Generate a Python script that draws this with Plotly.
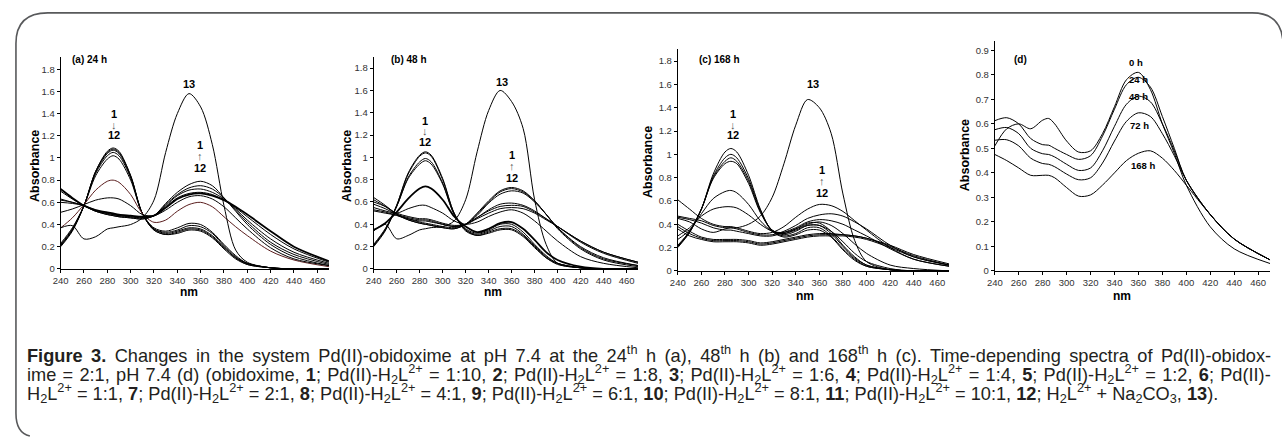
import plotly.graph_objects as go

W = 1282
H = 439

nm = [240, 250, 260, 270, 280, 285, 290, 300, 310, 320, 330, 340, 350, 360, 370, 380, 390, 400, 420, 440, 470]

# (a) 24 h
a1 = [0.20, 0.34, 0.57, 0.88, 1.06, 1.09, 1.06, 0.84, 0.50, 0.35, 0.31, 0.32, 0.35, 0.34, 0.28, 0.18, 0.09, 0.04, 0.01, 0.0, 0.0]
a2 = [0.21, 0.35, 0.57, 0.88, 1.05, 1.08, 1.05, 0.84, 0.50, 0.35, 0.31, 0.33, 0.36, 0.35, 0.29, 0.19, 0.10, 0.04, 0.01, 0.0, 0.0]
a3 = [0.21, 0.35, 0.57, 0.87, 1.04, 1.07, 1.04, 0.83, 0.50, 0.36, 0.32, 0.34, 0.37, 0.36, 0.30, 0.20, 0.10, 0.05, 0.01, 0.0, 0.0]
a4 = [0.22, 0.36, 0.57, 0.86, 1.02, 1.05, 1.02, 0.82, 0.50, 0.36, 0.33, 0.35, 0.39, 0.38, 0.32, 0.21, 0.11, 0.05, 0.01, 0.0, 0.0]
a5 = [0.23, 0.37, 0.57, 0.84, 0.99, 1.02, 0.99, 0.80, 0.50, 0.37, 0.34, 0.37, 0.41, 0.40, 0.33, 0.22, 0.12, 0.05, 0.01, 0.0, 0.0]
a6 = [0.37, 0.46, 0.58, 0.71, 0.79, 0.80, 0.78, 0.67, 0.50, 0.42, 0.44, 0.52, 0.58, 0.60, 0.56, 0.47, 0.38, 0.30, 0.16, 0.08, 0.02]
a7 = [0.51, 0.54, 0.58, 0.62, 0.64, 0.64, 0.63, 0.57, 0.49, 0.48, 0.53, 0.60, 0.65, 0.66, 0.63, 0.56, 0.46, 0.36, 0.19, 0.09, 0.03]
a8 = [0.72, 0.64, 0.57, 0.53, 0.51, 0.50, 0.49, 0.48, 0.47, 0.48, 0.55, 0.63, 0.67, 0.68, 0.66, 0.62, 0.56, 0.49, 0.34, 0.20, 0.07]
a9 = [0.70, 0.63, 0.57, 0.52, 0.50, 0.49, 0.48, 0.47, 0.46, 0.48, 0.56, 0.64, 0.68, 0.69, 0.67, 0.62, 0.55, 0.47, 0.31, 0.18, 0.06]
a10 = [0.63, 0.60, 0.57, 0.53, 0.50, 0.49, 0.48, 0.47, 0.46, 0.48, 0.57, 0.66, 0.71, 0.72, 0.69, 0.63, 0.54, 0.44, 0.27, 0.15, 0.05]
a11 = [0.62, 0.60, 0.57, 0.52, 0.49, 0.48, 0.47, 0.46, 0.45, 0.48, 0.58, 0.67, 0.73, 0.75, 0.72, 0.64, 0.53, 0.42, 0.24, 0.13, 0.04]
a12 = [0.60, 0.59, 0.57, 0.52, 0.49, 0.48, 0.47, 0.46, 0.45, 0.48, 0.59, 0.69, 0.76, 0.79, 0.75, 0.64, 0.52, 0.40, 0.22, 0.11, 0.03]
a13 = [0.37, 0.39, 0.27, 0.29, 0.36, 0.37, 0.38, 0.40, 0.46, 0.62, 1.05, 1.40, 1.58, 1.46, 1.12, 0.57, 0.17, 0.06, 0.01, 0.0, 0.0]

# (b) 48 h
b1 = [0.20, 0.34, 0.57, 0.86, 1.02, 1.05, 1.02, 0.81, 0.50, 0.34, 0.30, 0.32, 0.35, 0.35, 0.29, 0.19, 0.10, 0.04, 0.01, 0.0, 0.0]
b2 = [0.21, 0.35, 0.57, 0.85, 1.01, 1.04, 1.01, 0.80, 0.50, 0.35, 0.30, 0.33, 0.36, 0.36, 0.30, 0.20, 0.10, 0.05, 0.01, 0.0, 0.0]
b3 = [0.21, 0.35, 0.56, 0.82, 0.96, 0.99, 0.96, 0.77, 0.49, 0.35, 0.31, 0.34, 0.38, 0.38, 0.31, 0.21, 0.11, 0.05, 0.01, 0.0, 0.0]
b4 = [0.22, 0.36, 0.56, 0.81, 0.94, 0.97, 0.94, 0.76, 0.49, 0.36, 0.32, 0.35, 0.40, 0.40, 0.33, 0.22, 0.12, 0.05, 0.01, 0.0, 0.0]
b5 = [0.35, 0.41, 0.51, 0.63, 0.72, 0.74, 0.72, 0.62, 0.47, 0.38, 0.33, 0.36, 0.41, 0.42, 0.36, 0.26, 0.15, 0.08, 0.02, 0.0, 0.0]
b6 = [0.55, 0.52, 0.50, 0.54, 0.57, 0.57, 0.55, 0.50, 0.43, 0.40, 0.42, 0.47, 0.51, 0.53, 0.50, 0.43, 0.34, 0.25, 0.11, 0.05, 0.01]
b7 = [0.60, 0.56, 0.50, 0.47, 0.45, 0.45, 0.44, 0.41, 0.39, 0.40, 0.45, 0.50, 0.54, 0.55, 0.54, 0.50, 0.44, 0.38, 0.25, 0.15, 0.06]
b8 = [0.58, 0.54, 0.49, 0.46, 0.44, 0.44, 0.43, 0.40, 0.38, 0.40, 0.46, 0.52, 0.56, 0.57, 0.56, 0.51, 0.45, 0.38, 0.25, 0.15, 0.06]
b9 = [0.53, 0.51, 0.48, 0.45, 0.43, 0.43, 0.42, 0.40, 0.38, 0.40, 0.46, 0.53, 0.58, 0.59, 0.57, 0.52, 0.45, 0.38, 0.24, 0.14, 0.05]
b10 = [0.64, 0.57, 0.49, 0.45, 0.42, 0.41, 0.40, 0.38, 0.37, 0.40, 0.48, 0.59, 0.67, 0.70, 0.68, 0.60, 0.49, 0.37, 0.20, 0.10, 0.03]
b11 = [0.62, 0.56, 0.49, 0.44, 0.41, 0.40, 0.39, 0.37, 0.36, 0.40, 0.49, 0.60, 0.69, 0.72, 0.69, 0.61, 0.49, 0.37, 0.19, 0.09, 0.03]
b12 = [0.52, 0.50, 0.48, 0.44, 0.41, 0.40, 0.39, 0.37, 0.36, 0.40, 0.50, 0.61, 0.70, 0.73, 0.70, 0.61, 0.49, 0.36, 0.18, 0.08, 0.02]
b13 = [0.34, 0.40, 0.27, 0.30, 0.35, 0.36, 0.37, 0.38, 0.43, 0.62, 1.05, 1.42, 1.60, 1.50, 1.26, 0.62, 0.22, 0.05, 0.01, 0.0, 0.0]

# (c) 168 h
c1 = [0.20, 0.33, 0.53, 0.83, 1.02, 1.05, 1.02, 0.82, 0.53, 0.34, 0.29, 0.31, 0.35, 0.35, 0.29, 0.18, 0.09, 0.04, 0.01, 0.0, 0.0]
c2 = [0.21, 0.33, 0.53, 0.81, 0.97, 1.00, 0.97, 0.79, 0.52, 0.34, 0.30, 0.32, 0.37, 0.37, 0.30, 0.19, 0.10, 0.04, 0.01, 0.0, 0.0]
c3 = [0.21, 0.34, 0.53, 0.80, 0.94, 0.97, 0.94, 0.77, 0.51, 0.35, 0.31, 0.34, 0.39, 0.39, 0.32, 0.21, 0.11, 0.05, 0.01, 0.0, 0.0]
c4 = [0.22, 0.34, 0.53, 0.79, 0.92, 0.94, 0.92, 0.75, 0.50, 0.35, 0.32, 0.36, 0.41, 0.41, 0.34, 0.22, 0.12, 0.05, 0.01, 0.0, 0.0]
c5 = [0.27, 0.35, 0.49, 0.62, 0.68, 0.69, 0.67, 0.57, 0.43, 0.34, 0.32, 0.35, 0.39, 0.39, 0.34, 0.25, 0.15, 0.08, 0.02, 0.0, 0.0]
c6 = [0.30, 0.37, 0.47, 0.53, 0.55, 0.55, 0.54, 0.48, 0.40, 0.34, 0.33, 0.36, 0.40, 0.42, 0.39, 0.32, 0.23, 0.15, 0.05, 0.02, 0.0]
c7 = [0.61, 0.53, 0.45, 0.40, 0.38, 0.38, 0.37, 0.34, 0.32, 0.33, 0.38, 0.46, 0.53, 0.57, 0.56, 0.51, 0.43, 0.35, 0.20, 0.10, 0.04]
c8 = [0.47, 0.45, 0.43, 0.39, 0.37, 0.37, 0.36, 0.33, 0.31, 0.31, 0.34, 0.39, 0.45, 0.48, 0.49, 0.47, 0.42, 0.36, 0.22, 0.12, 0.05]
c9 = [0.46, 0.44, 0.41, 0.37, 0.35, 0.35, 0.34, 0.32, 0.30, 0.30, 0.33, 0.37, 0.42, 0.44, 0.43, 0.40, 0.35, 0.30, 0.19, 0.10, 0.04]
c10 = [0.40, 0.34, 0.29, 0.27, 0.27, 0.27, 0.27, 0.26, 0.24, 0.25, 0.27, 0.29, 0.31, 0.32, 0.32, 0.31, 0.30, 0.28, 0.22, 0.14, 0.06]
c11 = [0.38, 0.32, 0.28, 0.26, 0.26, 0.26, 0.26, 0.25, 0.23, 0.24, 0.26, 0.28, 0.30, 0.31, 0.31, 0.31, 0.30, 0.28, 0.21, 0.13, 0.05]
c12 = [0.36, 0.30, 0.27, 0.25, 0.25, 0.25, 0.25, 0.24, 0.22, 0.23, 0.25, 0.27, 0.29, 0.30, 0.30, 0.30, 0.29, 0.27, 0.20, 0.12, 0.05]
c13 = [0.45, 0.42, 0.36, 0.33, 0.36, 0.37, 0.37, 0.40, 0.47, 0.63, 0.92, 1.25, 1.47, 1.40, 1.18, 0.66, 0.26, 0.08, 0.01, 0.0, 0.0]

# (d) Pd(II)-obidoxime = 2:1, pH 7.4, time dependence
d_0h = [0.51, 0.58, 0.60, 0.58, 0.615, 0.622, 0.60, 0.53, 0.485, 0.49, 0.56, 0.67, 0.78, 0.81, 0.74, 0.60, 0.48, 0.35, 0.18, 0.09, 0.03]
d_24h = [0.613, 0.625, 0.60, 0.54, 0.515, 0.513, 0.50, 0.475, 0.455, 0.47, 0.55, 0.66, 0.76, 0.79, 0.75, 0.63, 0.50, 0.37, 0.23, 0.13, 0.045]
d_48h = [0.576, 0.585, 0.56, 0.50, 0.478, 0.475, 0.465, 0.435, 0.41, 0.42, 0.49, 0.59, 0.68, 0.713, 0.69, 0.60, 0.49, 0.37, 0.23, 0.13, 0.045]
d_72h = [0.533, 0.535, 0.51, 0.46, 0.438, 0.435, 0.425, 0.395, 0.372, 0.38, 0.44, 0.53, 0.61, 0.645, 0.63, 0.56, 0.47, 0.37, 0.23, 0.13, 0.045]
d_168h = [0.475, 0.45, 0.42, 0.39, 0.39, 0.39, 0.38, 0.34, 0.305, 0.31, 0.35, 0.40, 0.45, 0.48, 0.49, 0.46, 0.41, 0.35, 0.23, 0.13, 0.045]

panel_a = [a1, a2, a3, a4, a5, a6, a7, a8, a9, a10, a11, a12, a13]
panel_b = [b1, b2, b3, b4, b5, b6, b7, b8, b9, b10, b11, b12, b13]
panel_c = [c1, c2, c3, c4, c5, c6, c7, c8, c9, c10, c11, c12, c13]
panel_d = [d_0h, d_24h, d_48h, d_72h, d_168h]
time_labels = ["0 h", "24 h", "48 h", "72 h", "168 h"]


def fx(x):
    return x / W


def fy(y):
    return 1 - y / H


FONT = "Liberation Sans"

fig = go.Figure()

# panel boxes in pixels: left, right, top, bottom, ymax
boxes = [
    (53, 323, 58, 272, 1.907),
    (368, 634, 58, 272, 1.897),
    (674, 947, 50, 274, 1.90),
    (993, 1270, 41, 274, 0.94),
]

for i, curves in enumerate([panel_a, panel_b, panel_c, panel_d]):
    xa = "x" if i == 0 else "x%d" % (i + 1)
    ya = "y" if i == 0 else "y%d" % (i + 1)
    for j, vals in enumerate(curves):
        color = "black"
        width = 1
        if i == 0 and j == 5:
            color = "#5a1e1e"
        if (i == 0 and j == 7) or (i == 1 and j == 4):
            width = 1.8
        fig.add_trace(go.Scatter(x=nm, y=vals, xaxis=xa, yaxis=ya, mode="lines",
                                 line=dict(color=color, width=width, shape="spline", smoothing=0.9),
                                 showlegend=False, hoverinfo="skip"))

layout_axes = {}
for i, (l, r, t, b, ymax) in enumerate(boxes):
    n = "" if i == 0 else str(i + 1)
    layout_axes["xaxis" + n] = dict(
        domain=[fx(l), fx(r)], range=[240, 470], anchor="y" + n,
        tickmode="array", tickvals=list(range(240, 461, 20)),
        showline=True, linecolor="black", linewidth=1, ticks="outside",
        ticklen=3, tickcolor="black", showgrid=False, zeroline=False,
        tickfont=dict(family=FONT, size=9.5, color="#333333"))
    layout_axes["yaxis" + n] = dict(
        domain=[fy(b), fy(t)], range=[0, ymax], anchor="x" + n,
        tick0=0, dtick=0.1 if i == 3 else 0.2,
        showline=True, linecolor="black", linewidth=1, ticks="outside",
        ticklen=3, tickcolor="black", showgrid=False, zeroline=False,
        tickfont=dict(family=FONT, size=9.5, color="#333333"))

ann = []


def label(x, y, text, size=11, bold=True, angle=0, color="black", xanchor="center", yanchor="middle"):
    ann.append(dict(x=fx(x), y=fy(y), xref="paper", yref="paper", showarrow=False,
                    text="<b>%s</b>" % text if bold else text, textangle=angle,
                    xanchor=xanchor, yanchor=yanchor,
                    font=dict(family=FONT, size=size, color=color)))


# axis titles
label(27, 168, "Absorbance", 12.5, angle=-90)
label(341, 168, "Absorbance", 12.5, angle=-90)
label(644, 164, "Absorbance", 12.5, angle=-90)
label(963, 157, "Absorbance", 12.5, angle=-90)
label(182, 295, "nm", 12)
label(488, 295, "nm", 12)
label(802, 299, "nm", 12)
label(1121, 299, "nm", 12)

# panel tags
label(62, 60, "(a) 24 h", 10, xanchor="left")
label(383, 60, "(b) 48 h", 10, xanchor="left")
label(693, 60, "(c) 168 h", 10, xanchor="left")
label(1010, 60, "(d)", 10, xanchor="left")

# curve numbers
for x13, y13, xl, yl, xr, yr in [(182, 85, 107, 115, 193, 147),
                                 (497, 83, 420, 122, 507, 157),
                                 (810, 85, 730, 115, 819, 172)]:
    label(x13, y13, "13", 11)
    label(xl, yl, "1", 11)
    label(xl, yl + 11, "↓", 11, bold=False, color="#555555")
    label(xl, yl + 22, "12", 11)
    label(xr, yr, "1", 11)
    label(xr, yr + 11, "↑", 11, bold=False, color="#555555")
    label(xr, yr + 23, "12", 11)

# time labels in (d)
for txt, (x, y) in zip(time_labels, [(1135, 63), (1138, 80), (1138, 98), (1139, 127), (1142, 167)]):
    label(x, y, txt, 9.5)

# caption (first two lines are justified in the original, so widen their word gaps)
cap1 = ("<b>Figure 3.</b> Changes in the system Pd(II)-obidoxime at pH 7.4 at the 24<sup>th</sup> h (a), "
        "48<sup>th</sup> h (b) and 168<sup>th</sup> h (c). Time-depending spectra of Pd(II)-obidox-")
hl = "Pd(II)-H<sub>2</sub>L<sup>2+</sup>"
cap2 = ("ime = 2:1, pH 7.4 (d) (obidoxime, <b>1</b>; " + hl + " = 1:10, <b>2</b>; " + hl + " = 1:8, <b>3</b>; "
        + hl + " = 1:6, <b>4</b>; " + hl + " = 1:4, <b>5</b>; " + hl + " = 1:2, <b>6</b>; Pd(II)-")
cap3 = ("H<sub>2</sub>L<sup>2+</sup> = 1:1, <b>7</b>; " + hl + " = 2:1, <b>8</b>; " + hl + " = 4:1, <b>9</b>; "
        + hl + " = 6:1, <b>10</b>; " + hl + " = 8:1, <b>11</b>; " + hl + " = 10:1, <b>12</b>; "
        "H<sub>2</sub>L<sup>2+</sup> + Na<sub>2</sub>CO<sub>3</sub>, <b>13</b>).")
cap_lines = [(cap1, 3.4, 364), (cap2, 1.2, 383), (cap3, 0, 402)]
for txt, gap, base in cap_lines:
    if gap:
        txt = '<span style="word-spacing:%.1fpx">%s</span>' % (gap, txt)
    label(17, base - 20, txt, 18.2, bold=False, color="#231f20", xanchor="left", yanchor="top")

# rounded frame around the figure
pts = [(22, 441), (8, 438), (8, 418), (8, 44), (8, 13), (40, 13), (1252, 13), (1281, 13), (1283, 42)]
p = [(fx(x), fy(y)) for x, y in pts]
path = ("M %f,%f Q %f,%f %f,%f L %f,%f Q %f,%f %f,%f L %f,%f Q %f,%f %f,%f"
        % (p[0] + p[1] + p[2] + p[3] + p[4] + p[5] + p[6] + p[7] + p[8]))
shapes = [dict(type="path", xref="paper", yref="paper", path=path,
               line=dict(color="#58595b", width=1.6))]

fig.update_layout(width=W, height=H, margin=dict(l=0, r=0, t=0, b=0),
                  paper_bgcolor="white", plot_bgcolor="white",
                  annotations=ann, shapes=shapes, **layout_axes)

# the page body has an 8px default margin; drop it so the figure sits at the corner
fig.write_html("out.html", config={"displayModeBar": False},
               post_script="document.body.style.margin='0px';")
